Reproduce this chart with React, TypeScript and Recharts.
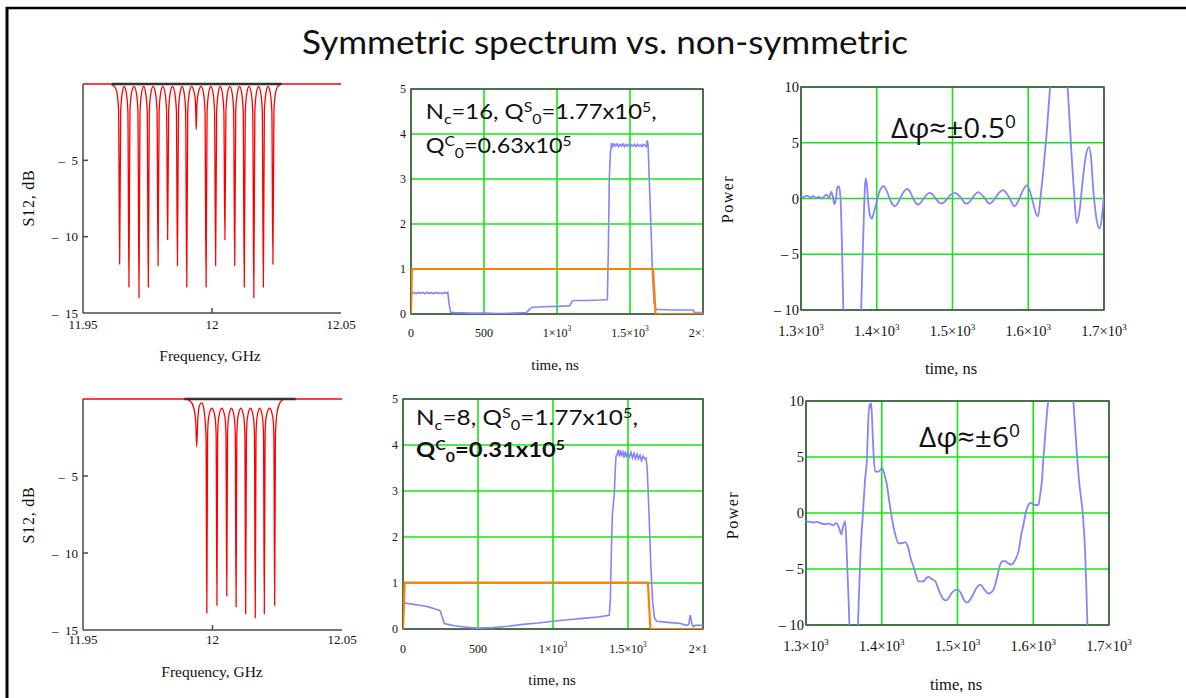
import React from 'react';
import { LineChart, Line, XAxis, YAxis, CartesianGrid, ReferenceArea } from 'recharts';

// ---------------- DATA ----------------
const specXTicks = [11.95, 12, 12.05];
const specXLabels = ['11.95', '12', '12.05'];
const specYTicks = [-15, -10, -5];
const specYLabels = ['\u2013\u200215', '\u2013\u200210', '\u2013\u20025'];

// S12 (dB) vs frequency (GHz), 16 cells
const spectrumSym: [number, number][] = [
  [11.95, 0], [11.9605, 0], [11.962, -0.12], [11.9632, -0.6], [11.9638, -1.8], [11.9642, -11.8], [11.9646, -1.8], [11.9652, -0.6],
  [11.966, -0.15],
  [11.9668, -0.6], [11.9674, -1.8], [11.9678, -13.3], [11.9682, -1.8], [11.9688, -0.6],
  [11.96975, -0.15],
  [11.9707, -0.6], [11.9713, -1.8], [11.9717, -14.0], [11.9721, -1.8], [11.9727, -0.6],
  [11.9735, -0.15],
  [11.9743, -0.6], [11.9749, -1.8], [11.9753, -13.3], [11.9757, -1.8], [11.9763, -0.6],
  [11.9772, -0.15],
  [11.9781, -0.6], [11.9787, -1.8], [11.9791, -11.9], [11.9795, -1.8], [11.9801, -0.6],
  [11.98095, -0.15],
  [11.9818, -0.6], [11.9824, -1.8], [11.9828, -10.2], [11.9832, -1.8], [11.9838, -0.6],
  [11.9847, -0.15],
  [11.9856, -0.6], [11.9862, -1.8], [11.9866, -11.9], [11.987, -1.8], [11.9876, -0.6],
  [11.9884, -0.15],
  [11.9892, -0.6], [11.9898, -1.8], [11.9902, -13.3], [11.9906, -1.8], [11.9912, -0.6],
  [11.99205, -0.15],
  [11.993, -0.5], [11.9936, -1.2], [11.9939, -3.0], [11.9942, -1.2], [11.9948, -0.5],
  [11.9958, -0.15],
  [11.9967, -0.6], [11.9973, -1.8], [11.9977, -13.3], [11.9981, -1.8], [11.9987, -0.6],
  [11.99955, -0.15],
  [12.0004, -0.6], [12.001, -1.8], [12.0014, -11.9], [12.0018, -1.8], [12.0024, -0.6],
  [12.0032, -0.15],
  [12.004, -0.6], [12.0046, -1.8], [12.005, -10.2], [12.0054, -1.8], [12.006, -0.6],
  [12.0069, -0.15],
  [12.0078, -0.6], [12.0084, -1.8], [12.0088, -11.9], [12.0092, -1.8], [12.0098, -0.6],
  [12.01065, -0.15],
  [12.0115, -0.6], [12.0121, -1.8], [12.0125, -13.3], [12.0129, -1.8], [12.0135, -0.6],
  [12.01435, -0.15],
  [12.0152, -0.6], [12.0158, -1.8], [12.0162, -14.0], [12.0166, -1.8], [12.0172, -0.6],
  [12.01805, -0.15],
  [12.0189, -0.6], [12.0195, -1.8], [12.0199, -13.3], [12.0203, -1.8], [12.0209, -0.6],
  [12.02175, -0.15],
  [12.0226, -0.6], [12.0232, -1.8], [12.0236, -11.8], [12.024, -1.8], [12.0246, -0.6],
  [12.0256, -0.12], [12.027, 0], [12.05, 0],
];
const spectrumSymBase: [number, number][] = [[11.9611, 0], [12.027, 0]];

// S12 (dB) vs frequency (GHz), 8 cells
const spectrumAsym: [number, number][] = [
  [11.95, 0], [11.9895, 0], [11.9915, -0.15], [11.9928, -0.6], [11.9935, -1.4], [11.9939, -3.1], [11.9943, -1.4], [11.995, -0.4],
  [11.9958, -0.25],
  [11.9966, -0.6], [11.9971, -1.3], [11.9975, -2.4], [11.9978, -13.9], [11.9981, -2.4], [11.9985, -1.2],
  [11.99975, -0.6],
  [12.001, -1.2], [12.0014, -2.3], [12.0017, -13.4], [12.002, -2.3], [12.0024, -1.2],
  [12.0036, -0.6],
  [12.0048, -1.2], [12.0052, -2.3], [12.0055, -12.8], [12.0058, -2.3], [12.0062, -1.2],
  [12.0073, -0.6],
  [12.0084, -1.2], [12.0088, -2.3], [12.0091, -13.5], [12.0094, -2.3], [12.0098, -1.2],
  [12.01095, -0.6],
  [12.0121, -1.2], [12.0125, -2.3], [12.0128, -13.95], [12.0131, -2.3], [12.0135, -1.2],
  [12.01465, -0.6],
  [12.0158, -1.2], [12.0162, -2.3], [12.0165, -14.2], [12.0168, -2.3], [12.0172, -1.2],
  [12.01825, -0.6],
  [12.0193, -1.2], [12.0197, -2.3], [12.02, -13.95], [12.0203, -2.3], [12.0207, -1.2],
  [12.022, -0.6],
  [12.0233, -1.2], [12.0237, -2.3], [12.024, -13.4], [12.0243, -2.3], [12.025, -0.8],
  [12.0262, -0.2], [12.0275, -0.03], [12.029, 0], [12.05, 0],
];
const spectrumAsymBase: [number, number][] = [[11.9891, 0], [12.0321, 0]];

const timeTicks = [0, 500, 1000, 1500, 2000];
const timeLabels = ['0', '500', '1\u00d710^3', '1.5\u00d710^3', '2\u00d710^3'];
const powerTicks = [0, 1, 2, 3, 4, 5];
const powerLabels = ['0', '1', '2', '3', '4', '5'];

const inputPulse16: [number, number][] = [[0, 0], [6, 1], [1658, 1], [1675, 0], [2000, 0]];
const outputPower16: [number, number][] = [
  [0, 0.3], [5, 0.46], [20, 0.48], [35, 0.45], [50, 0.48], [65, 0.46], [80, 0.48], [95, 0.45], [110, 0.48], [125, 0.46],
  [140, 0.48], [155, 0.45], [170, 0.48], [185, 0.46], [200, 0.47], [215, 0.45], [230, 0.48], [245, 0.46], [252, 0.48],
  [262, 0.2], [272, 0.04], [300, 0.03], [400, 0.02], [500, 0.02], [600, 0.01], [700, 0.02], [790, 0.03], [805, 0.08],
  [830, 0.15], [900, 0.16], [1000, 0.17], [1085, 0.18], [1100, 0.26], [1110, 0.3], [1200, 0.3], [1300, 0.31], [1345, 0.32],
  [1352, 1.5], [1358, 3.0], [1366, 3.6], [1374, 3.8], [1382, 3.72], [1392, 3.78], [1402, 3.73], [1412, 3.78], [1422, 3.72],
  [1432, 3.77], [1442, 3.73], [1452, 3.78], [1462, 3.72], [1472, 3.77], [1482, 3.73], [1492, 3.77], [1502, 3.72],
  [1512, 3.76], [1522, 3.73], [1532, 3.77], [1542, 3.72], [1552, 3.77], [1562, 3.73], [1572, 3.76], [1582, 3.72],
  [1592, 3.77], [1602, 3.74], [1612, 3.72], [1618, 3.86], [1624, 3.75], [1632, 3.0], [1645, 1.8], [1655, 0.8],
  [1665, 0.25], [1678, 0.1], [1700, 0.1], [1800, 0.09], [1900, 0.09], [1932, 0.09], [1942, 0.03], [2000, 0.03],
];

const inputPulse8: [number, number][] = [[0, 0], [11, 1.01], [1633, 1.01], [1649, 0], [2000, 0]];
const outputPower8: [number, number][] = [
  [0, 0.28], [8, 0.58], [20, 0.56], [40, 0.55], [60, 0.54], [80, 0.53], [100, 0.52], [120, 0.51], [140, 0.5],
  [160, 0.49], [180, 0.47], [200, 0.45], [220, 0.43], [240, 0.41], [250, 0.38], [262, 0.25], [275, 0.12], [300, 0.1],
  [340, 0.07], [400, 0.05], [450, 0.03], [500, 0.02], [600, 0.03], [700, 0.06], [800, 0.1], [900, 0.13], [1000, 0.17],
  [1100, 0.2], [1200, 0.23], [1300, 0.26], [1375, 0.3], [1382, 0.6], [1390, 1.8], [1396, 2.5], [1402, 2.7], [1408, 2.9],
  [1414, 3.4], [1420, 3.75], [1428, 3.8], [1435, 3.9], [1442, 3.75], [1450, 3.88], [1458, 3.78], [1466, 3.85],
  [1474, 3.72], [1482, 3.86], [1490, 3.76], [1500, 3.82], [1510, 3.74], [1520, 3.84], [1530, 3.72], [1540, 3.82],
  [1550, 3.7], [1560, 3.8], [1570, 3.7], [1580, 3.78], [1590, 3.66], [1600, 3.76], [1610, 3.7], [1620, 3.72],
  [1628, 3.5], [1640, 2.5], [1652, 1.4], [1664, 0.6], [1676, 0.25], [1690, 0.17], [1750, 0.15], [1850, 0.12],
  [1890, 0.08], [1905, 0.1], [1915, 0.3], [1925, 0.12], [1935, 0.05], [1950, 0.08], [2000, 0.08],
];

const phaseXTicks = [1300, 1400, 1500, 1600, 1700];
const phaseXLabels = ['1.3\u00d710^3', '1.4\u00d710^3', '1.5\u00d710^3', '1.6\u00d710^3', '1.7\u00d710^3'];
const phaseYTicks = [-10, -5, 0, 5, 10];
const phaseYLabels = ['\u2013 10', '\u2013 5', '0', '5', '10'];

const phase16: [number, number][] = [
  [1300, 0.2], [1304, 0.15], [1308, 0.25], [1312, 0.1], [1316, 0.2], [1320, 0.05], [1324, 0.15], [1328, 0.0],
  [1331, 0.2], [1334, 0.35], [1337, 0.05], [1340, 0.6], [1342, 0.2], [1344, -0.5], [1346, -0.1], [1348, 1.0],
  [1350, 1.1], [1352, 0.2], [1354, -4.0], [1356, -10.5], [1360, -22], [1366, -28], [1372, -22], [1377, -13],
  [1379.4, -10], [1381, -6], [1383, -1.5], [1384.5, 1.2], [1385.6, 1.8], [1387, 1.2], [1389, -0.5], [1391, -1.5],
  [1393.5, -1.8], [1396, -1.3], [1400, -0.3], [1404, 0.7], [1409, 1.1], [1413, 0.7], [1417, 0.0], [1421, -0.55],
  [1424, -0.7], [1428, -0.4], [1433, 0.3], [1440, 0.87], [1444, 0.6], [1448, 0.0], [1452, -0.45], [1455, -0.54],
  [1459, -0.3], [1464, 0.2], [1470, 0.51], [1474, 0.35], [1479, -0.1], [1483, -0.4], [1486, -0.45], [1491, -0.2],
  [1497, 0.3], [1503, 0.51], [1508, 0.3], [1513, -0.1], [1516, -0.4], [1519, -0.45], [1524, -0.2], [1529, 0.3],
  [1534, 0.57], [1539, 0.3], [1544, -0.1], [1547, -0.4], [1549, -0.45], [1554, -0.2], [1560, 0.4], [1567, 0.75],
  [1572, 0.4], [1577, -0.2], [1580, -0.6], [1582, -0.7], [1587, -0.2], [1592, 0.6], [1598, 1.17], [1602, 0.7],
  [1606, -0.3], [1610, -1.3], [1613, -1.6], [1616, 0.0], [1620, 2.6], [1624, 5.6], [1628.6, 9.8], [1633, 13.5],
  [1641, 17], [1648, 13.5], [1652, 10], [1657, 4.1], [1660, 1.0], [1664, -2.2], [1668, -1.0], [1672, 1.7],
  [1676, 3.8], [1680, 4.6], [1683, 3.6], [1685.5, 1.1], [1690, -1.8], [1694, -2.7], [1697, -1.8], [1700, 0.4],
];

const phase8: [number, number][] = [
  [1300, -0.75], [1305, -0.8], [1310, -0.85], [1315, -0.8], [1319, -0.9], [1325, -1.0], [1330, -0.95], [1336, -1.1],
  [1340, -0.9], [1343, -1.2], [1346.6, -1.9], [1349, -1.2], [1351.8, -0.75], [1354, -4], [1357.5, -10.5], [1362, -25],
  [1366, -15], [1368.6, -10], [1372, -3.5], [1375.2, 0], [1378, 3], [1380.5, 4.9], [1382, 8], [1384, 9.7], [1385, 9.4],
  [1386, 9.8], [1387.7, 7.6], [1389, 5.5], [1391.4, 3.7], [1396, 3.7], [1400.2, 4.0], [1403, 3.6], [1406.8, 2.5],
  [1410, 1.0], [1413.4, -0.45], [1417.8, -1.9], [1422.2, -2.7], [1427, -2.7], [1431, -2.6], [1435.4, -3.2], [1438, -4.0],
  [1442, -4.8], [1445, -5.5], [1448.6, -6.1], [1452, -6.1], [1455.2, -6.1], [1459, -5.8], [1462, -5.7], [1466, -5.9],
  [1470.6, -6.1], [1476, -7.0], [1481.6, -7.7], [1485, -7.8], [1488.2, -7.6], [1493, -7.1], [1499.2, -6.85],
  [1504, -7.1], [1508, -7.7], [1512.4, -8.0], [1516, -7.8], [1521.2, -7.2], [1525, -6.7], [1530, -6.4], [1535, -6.8],
  [1541, -7.2], [1544, -7.1], [1547.6, -6.85], [1552, -5.8], [1556.4, -4.6], [1560, -4.3], [1563, -4.3], [1567, -4.5],
  [1571.8, -4.6], [1576, -4.2], [1580.6, -3.4], [1584, -2.0], [1587.2, -1.0], [1590, 0.0], [1593.8, 0.74], [1597, 0.9],
  [1600.4, 0.75], [1604, 0.7], [1607, 0.74], [1609, 1.6], [1611.4, 2.8], [1613, 4.5], [1615.8, 7.0], [1619.3, 9.7],
  [1622, 11], [1630, 15], [1640, 17], [1648, 14], [1653, 10], [1657.4, 5.5], [1661, 2.5], [1665.3, 0], [1668.4, -3.4],
  [1670, -6.5], [1671.5, -10], [1675, -16], [1680, -22],
];

// ---------------- STYLE ----------------
const SERIF = '"Liberation Serif", "Times New Roman", serif';
const SANS = 'Lato, "Open Sans", sans-serif';
const BORDER = '#4a4a4a';
const GREEN = '#14e614';
const BLUE = '#8484ff';
const ORANGE = '#ff8000';
const RED = '#ff0000';
const AXIS_LINE = { stroke: BORDER, strokeWidth: 1.5 };

const toXY = (arr: [number, number][]) => arr.map(([x, v]) => ({ x, v }));

const xTick = (ticks: number[], labels: string[], fs: number, margin: number, inner: number[] = []) => (p: any) => {
  const v = p.payload.value;
  const i = ticks.indexOf(v);
  const lab = i >= 0 ? labels[i] : String(v);
  const [base, exp] = lab.split('^');
  const ay = p.y - margin;
  return (
    <g>
      {inner.includes(v) && <line x1={p.x} x2={p.x} y1={ay} y2={ay - 5} stroke={BORDER} strokeWidth={1.5} />}
      <text x={p.x} y={p.y} dy="0.71em" textAnchor="middle" fontFamily={SERIF} fontSize={fs} fill="#111">
        {base}
        {exp ? <tspan dy={-fs * 0.42} fontSize={fs * 0.62}>{exp}</tspan> : null}
      </text>
    </g>
  );
};

const yTick = (ticks: number[], labels: string[], fs: number, margin: number, inner: number[] = []) => (p: any) => {
  const v = p.payload.value;
  const i = ticks.indexOf(v);
  const ax = p.x + margin;
  return (
    <g>
      {inner.includes(v) && <line x1={ax} x2={ax + 5} y1={p.y} y2={p.y} stroke={BORDER} strokeWidth={1.5} />}
      <text x={p.x} y={p.y} dy="0.35em" textAnchor="end" fontFamily={SERIF} fontSize={fs} fill="#111">
        {i >= 0 ? labels[i] : String(v)}
      </text>
    </g>
  );
};

const rightInner = (inner: number[]) => (p: any) =>
  inner.includes(p.payload.value) ? (
    <line x1={p.x - 5} x2={p.x} y1={p.y} y2={p.y} stroke={BORDER} strokeWidth={1.5} />
  ) : (
    <g />
  );

const topInner = (inner: number[]) => (p: any) =>
  inner.includes(p.payload.value) ? (
    <line x1={p.x} x2={p.x} y1={p.y} y2={p.y + 5} stroke={BORDER} strokeWidth={1.5} />
  ) : (
    <g />
  );

type Box = { left: number; top: number; width: number; height: number; mt: number; mr: number; yw: number; xh: number; tm: number };

function SpectrumPanel({ box, data, base }: { box: Box; data: [number, number][]; base: [number, number][] }) {
  return (
    <div style={{ position: 'absolute', left: box.left, top: box.top }}>
      <LineChart width={box.width} height={box.height} margin={{ top: box.mt, right: box.mr, bottom: 0, left: 0 }}>
        <XAxis xAxisId={0} type="number" dataKey="x" domain={[11.95, 12.05]} ticks={specXTicks} interval={0}
          height={box.xh} tickSize={0} tickMargin={box.tm} axisLine={AXIS_LINE} tickLine={false}
          tick={xTick(specXTicks, specXLabels, 13, box.tm, [12])} />
        <XAxis xAxisId="top" orientation="top" type="number" dataKey="x" domain={[11.95, 12.05]} ticks={[12]}
          height={0} tickSize={0} tickMargin={0} axisLine={false} tickLine={false} tick={topInner([12])} />
        <YAxis yAxisId={0} type="number" domain={[-15, 0]} ticks={specYTicks} interval={0} width={box.yw}
          tickSize={0} tickMargin={5} axisLine={AXIS_LINE} tickLine={false}
          tick={yTick(specYTicks, specYLabels, 13, 5, [-10, -5])} />
        <YAxis yAxisId="right" orientation="right" type="number" domain={[-15, 0]} ticks={[-10, -5]} width={0}
          tickSize={0} tickMargin={0} axisLine={AXIS_LINE} tickLine={false} tick={rightInner([-10, -5])} />
        <Line data={toXY(data)} dataKey="v" type="monotone" stroke={RED} strokeWidth={1.3} dot={false} isAnimationActive={false} />
        <Line data={toXY(base)} dataKey="v" type="linear" stroke="#333" strokeWidth={2.5} dot={false} isAnimationActive={false} />
      </LineChart>
    </div>
  );
}

function PulsePanel({ box, input, output }: { box: Box; input: [number, number][]; output: [number, number][] }) {
  return (
    <div style={{ position: 'absolute', left: box.left, top: box.top }}>
      <LineChart width={box.width} height={box.height} margin={{ top: box.mt, right: box.mr, bottom: 0, left: 0 }}>
        <CartesianGrid stroke={GREEN} strokeWidth={1.6} />
        <XAxis type="number" dataKey="x" domain={[0, 2000]} ticks={timeTicks} interval={0} height={box.xh}
          tickSize={0} tickMargin={box.tm} axisLine={false} tickLine={false}
          tick={xTick(timeTicks, timeLabels, 12, box.tm)} allowDataOverflow />
        <YAxis type="number" domain={[0, 5]} ticks={powerTicks} interval={0} width={box.yw}
          tickSize={0} tickMargin={5} axisLine={false} tickLine={false}
          tick={yTick(powerTicks, powerLabels, 12, 5)} allowDataOverflow />
        <ReferenceArea x1={0} x2={2000} y1={0} y2={5} fill="none" stroke={BORDER} strokeWidth={1.5} />
        <Line data={toXY(output)} dataKey="v" type="linear" stroke={BLUE} strokeWidth={1.6} dot={false} isAnimationActive={false} />
        <Line data={toXY(input)} dataKey="v" type="linear" stroke={ORANGE} strokeWidth={2.2} dot={false} isAnimationActive={false} />
      </LineChart>
    </div>
  );
}

function PhasePanel({ box, data }: { box: Box; data: [number, number][] }) {
  return (
    <div style={{ position: 'absolute', left: box.left, top: box.top }}>
      <LineChart width={box.width} height={box.height} margin={{ top: box.mt, right: box.mr, bottom: 0, left: 0 }}>
        <CartesianGrid stroke={GREEN} strokeWidth={1.6} />
        <XAxis type="number" dataKey="x" domain={[1300, 1700]} ticks={phaseXTicks} interval={0} height={box.xh}
          tickSize={0} tickMargin={box.tm} axisLine={false} tickLine={false}
          tick={xTick(phaseXTicks, phaseXLabels, 14.5, box.tm)} allowDataOverflow />
        <YAxis type="number" domain={[-10, 10]} ticks={phaseYTicks} interval={0} width={box.yw}
          tickSize={0} tickMargin={2} axisLine={false} tickLine={false}
          tick={yTick(phaseYTicks, phaseYLabels, 14.5, 2)} allowDataOverflow />
        <ReferenceArea x1={1300} x2={1700} y1={-10} y2={10} fill="none" stroke={BORDER} strokeWidth={1.5} />
        <Line data={toXY(data)} dataKey="v" type="monotone" stroke={BLUE} strokeWidth={1.8} dot={false} isAnimationActive={false} />
      </LineChart>
    </div>
  );
}

const boxes: Record<string, Box> = {
  specTop: { left: 0, top: 70, width: 380, height: 300, mt: 14, mr: 39, yw: 83, xh: 57, tm: 7 },
  specBot: { left: 0, top: 385, width: 380, height: 313, mt: 14, mr: 38, yw: 83, xh: 68, tm: 5 },
  pulseTop: { left: 380, top: 70, width: 324, height: 310, mt: 19, mr: 1, yw: 31, xh: 66, tm: 14 },
  pulseBot: { left: 380, top: 385, width: 328, height: 313, mt: 14, mr: 5, yw: 23, xh: 69, tm: 15 },
  phaseTop: { left: 710, top: 70, width: 476, height: 310, mt: 17, mr: 82, yw: 91, xh: 70, tm: 16 },
  phaseBot: { left: 710, top: 385, width: 476, height: 313, mt: 16, mr: 77, yw: 96, xh: 73, tm: 16 },
};

const axisTitles = [
  { t: 'S12, dB', x: 28, y: 198, rot: true, fs: 16, ls: 0.8 },
  { t: 'Frequency, GHz', x: 210, y: 356, rot: false, fs: 15.5, ls: 0 },
  { t: 'S12, dB', x: 28, y: 515, rot: true, fs: 16, ls: 0.8 },
  { t: 'Frequency, GHz', x: 212, y: 672, rot: false, fs: 15.5, ls: 0 },
  { t: 'time, ns', x: 555, y: 365, rot: false, fs: 15, ls: 0 },
  { t: 'time, ns', x: 552, y: 680, rot: false, fs: 15, ls: 0 },
  { t: 'time, ns', x: 951, y: 368, rot: false, fs: 16.5, ls: 0 },
  { t: 'time, ns', x: 956, y: 684, rot: false, fs: 16.5, ls: 0 },
  { t: 'Power', x: 727, y: 199, rot: true, fs: 16, ls: 1.5 },
  { t: 'Power', x: 732, y: 515, rot: true, fs: 16, ls: 1.5 },
];

function Overlay() {
  const sub = 14;
  return (
    <svg width={1186} height={698} style={{ position: 'absolute', left: 0, top: 0, pointerEvents: 'none' }}>
      <line x1={6} y1={8} x2={1186} y2={8} stroke="#000" strokeWidth={2.5} />
      <line x1={7} y1={7} x2={7} y2={698} stroke="#000" strokeWidth={3} />
      <text x={605} y={54} textAnchor="middle" fontFamily={SANS} fontSize={33} fill="#111" textLength={606} lengthAdjust="spacingAndGlyphs">
        Symmetric spectrum vs. non-symmetric
      </text>
      {axisTitles.map((a, i) => (
        <text key={i} x={a.x} y={a.y} dy="0.35em" textAnchor="middle" fontFamily={SERIF} fontSize={a.fs} letterSpacing={a.ls}
          fill="#111" transform={a.rot ? `rotate(-90 ${a.x} ${a.y})` : undefined}>
          {a.t}
        </text>
      ))}
      {/* top pulse annotation */}
      <text x={425.7} y={119.3} fontFamily={SANS} fontSize={21} fill="#111" textLength={231} lengthAdjust="spacingAndGlyphs">
        N<tspan dy={5} fontSize={sub}>c</tspan><tspan dy={-5}>=16, Q</tspan><tspan dy={-7} fontSize={sub}>S</tspan>
        <tspan dy={12} fontSize={sub}>0</tspan><tspan dy={-5}>=1.77x10</tspan><tspan dy={-7} fontSize={sub}>5</tspan>
        <tspan dy={7}>,</tspan>
      </text>
      <text x={425.7} y={153.3} fontFamily={SANS} fontSize={21} fill="#111" textLength={146} lengthAdjust="spacingAndGlyphs">
        Q<tspan dy={-7} fontSize={sub}>C</tspan><tspan dy={12} fontSize={sub}>0</tspan><tspan dy={-5}>=0.63x10</tspan>
        <tspan dy={-7} fontSize={sub}>5</tspan>
      </text>
      {/* bottom pulse annotation */}
      <text x={416} y={425} fontFamily={SANS} fontSize={21} fill="#111" textLength={222} lengthAdjust="spacingAndGlyphs">
        N<tspan dy={5} fontSize={sub}>c</tspan><tspan dy={-5}>=8, Q</tspan><tspan dy={-7} fontSize={sub}>S</tspan>
        <tspan dy={12} fontSize={sub}>0</tspan><tspan dy={-5}>=1.77x10</tspan><tspan dy={-7} fontSize={sub}>5</tspan>
        <tspan dy={7}>,</tspan>
      </text>
      <text x={416} y={456.7} fontFamily={SANS} fontSize={21} fontWeight="bold" fill="#111" textLength={149} lengthAdjust="spacingAndGlyphs">
        Q<tspan dy={-7} fontSize={sub}>C</tspan><tspan dy={12} fontSize={sub}>0</tspan><tspan dy={-5}>=0.31x10</tspan>
        <tspan dy={-7} fontSize={sub}>5</tspan>
      </text>
      {/* phase annotations */}
      <text x={891} y={138.3} fontFamily='"Open Sans", sans-serif' fontSize={28} fill="#111" textLength={125} lengthAdjust="spacingAndGlyphs">
        {'\u0394\u03c6\u2248\u00b10.5'}<tspan dy={-10} fontSize={18}>0</tspan>
      </text>
      <text x={919} y={446.7} fontFamily='"Open Sans", sans-serif' fontSize={28} fill="#111" textLength={101} lengthAdjust="spacingAndGlyphs">
        {'\u0394\u03c6\u2248\u00b16'}<tspan dy={-10} fontSize={18}>0</tspan>
      </text>
    </svg>
  );
}

export default function App() {
  return (
    <div style={{ position: 'absolute', left: 0, top: 0, width: 1186, height: 698, background: '#fff', overflow: 'hidden' }}>
      <SpectrumPanel box={boxes.specTop} data={spectrumSym} base={spectrumSymBase} />
      <SpectrumPanel box={boxes.specBot} data={spectrumAsym} base={spectrumAsymBase} />
      <PulsePanel box={boxes.pulseTop} input={inputPulse16} output={outputPower16} />
      <PulsePanel box={boxes.pulseBot} input={inputPulse8} output={outputPower8} />
      <PhasePanel box={boxes.phaseTop} data={phase16} />
      <PhasePanel box={boxes.phaseBot} data={phase8} />
      <Overlay />
    </div>
  );
}
